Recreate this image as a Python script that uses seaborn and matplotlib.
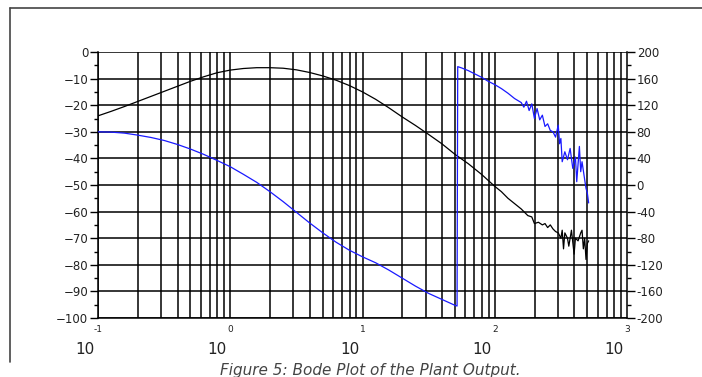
import numpy as np
import pandas as pd
import matplotlib
matplotlib.use("Agg")
import matplotlib.pyplot as plt
from matplotlib.lines import Line2D
from matplotlib.ticker import FixedLocator, NullFormatter
import seaborn as sns

# -----------------------------------
# Data
# -----------------------------------
# magnitude (dB, left axis), frequency given as log10
mag_logf = [-1.0, -0.9, -0.8, -0.7, -0.6, -0.5, -0.4, -0.3, -0.2, -0.1,
            0.0, 0.1, 0.2, 0.3, 0.4, 0.5, 0.6, 0.7, 0.8, 0.9,
            1.0, 1.1, 1.2, 1.3, 1.4, 1.5, 1.6, 1.7, 1.8, 1.9,
            2.0, 2.05, 2.1, 2.15, 2.2, 2.25, 2.28, 2.30, 2.33, 2.36,
            2.38, 2.40, 2.42, 2.44, 2.46, 2.48, 2.50, 2.51, 2.52, 2.53,
            2.55, 2.56, 2.58, 2.60, 2.61, 2.63, 2.65, 2.66, 2.67, 2.68,
            2.69, 2.70, 2.71]
mag_db = [-24, -22.3, -20.5, -18.6, -16.7, -14.8, -12.9, -11.0, -9.3, -7.8,
          -6.8, -6.2, -5.9, -5.9, -6.1, -6.7, -7.7, -9.0, -10.6, -12.6,
          -15.0, -17.8, -21.0, -24.4, -27.6, -31.0, -34.5, -38.5, -42.0, -46.0,
          -50.5, -52.5, -55.0, -57.0, -59.0, -61.5, -62.0, -64.5, -64.0, -65.0,
          -64.5, -66.0, -65.0, -66.5, -67.5, -68.0, -70.0, -67.0, -74.0, -68.0,
          -70.0, -73.0, -67.0, -76.0, -70.0, -71.0, -68.0, -67.0, -74.0, -70.0,
          -78.0, -72.0, -71.0]

# phase (deg, right axis)
ph_logf = [-1.0, -0.9, -0.8, -0.7, -0.6, -0.5, -0.4, -0.3, -0.2, -0.1,
           0.0, 0.1, 0.2, 0.3, 0.4, 0.5, 0.6, 0.7, 0.8, 0.9,
           1.0, 1.1, 1.2, 1.3, 1.4, 1.5, 1.6, 1.7, 1.715, 1.72,
           1.75, 1.8, 1.85, 1.9, 1.95, 2.0, 2.05, 2.1, 2.15, 2.2,
           2.22, 2.24, 2.26, 2.28, 2.30, 2.32, 2.34, 2.36, 2.38, 2.40,
           2.42, 2.44, 2.46, 2.48, 2.49, 2.50, 2.51, 2.53, 2.55, 2.57,
           2.59, 2.61, 2.62, 2.64, 2.65, 2.66, 2.68, 2.69, 2.70, 2.71]
ph_deg = [80, 79.5, 78, 75, 71.5, 67, 61, 54, 46, 37,
          27.5, 16, 4, -10, -25, -41, -57, -72, -86, -98,
          -108, -117, -128, -140, -152, -163, -172, -181, -182, 178,
          176, 172, 167, 162, 156, 151, 145, 138, 130, 124,
          117, 126, 112, 122, 100, 115, 98, 105, 88, 92,
          82, 80, 72, 90, 62, 70, 35, 50, 38, 55,
          25, 42, 5, 58, 20, 35, 8, -5, -12, -27]

mag = pd.DataFrame({"f": 10.0 ** np.array(mag_logf), "db": mag_db})
ph = pd.DataFrame({"f": 10.0 ** np.array(ph_logf), "deg": ph_deg})

x_exponents = [-1, 0, 1, 2, 3]
left_ticks = list(range(-100, 1, 10))
right_ticks = list(range(-200, 201, 40))

# -----------------------------------
# Figure
# -----------------------------------
sns.set_style("white")
plt.rcParams["font.family"] = ["DejaVu Sans"]

W, H = 702, 377
fig = plt.figure(figsize=(W / 100, H / 100), dpi=100)
ax = fig.add_axes([98 / W, 1 - 318 / H, (627 - 98) / W, (318 - 52) / H])
ax2 = ax.twinx()

ax.set_xscale("log")
ax.set_xlim(0.1, 1000)
ax.set_ylim(-100, 0)
ax2.set_ylim(-200, 200)

# grid: every decade + minor log lines, horizontal every 10 dB
for dec in range(-1, 3):
    for m in range(1, 10):
        ax.axvline(m * 10.0 ** dec, color="black", lw=1.1, zorder=1)
for v in left_ticks:
    ax.axhline(v, color="black", lw=1.1, zorder=1)

sns.lineplot(data=mag, x="f", y="db", ax=ax, color="black", lw=0.9,
             sort=False, estimator=None, zorder=3)
sns.lineplot(data=ph, x="f", y="deg", ax=ax2, color="#1a1aff", lw=0.9,
             sort=False, estimator=None, zorder=3)
ax2.set_xscale("log")
ax2.set_xlim(0.1, 1000)

for a in (ax, ax2):
    a.set_xlabel("")
    a.set_ylabel("")
    for s in a.spines.values():
        s.set_visible(False)
ax.spines["left"].set_visible(True)
ax.spines["bottom"].set_visible(True)
ax2.spines["right"].set_visible(True)
for s in ("left", "bottom"):
    ax.spines[s].set_color("black")
    ax.spines[s].set_linewidth(1.1)
ax2.spines["right"].set_color("black")
ax2.spines["right"].set_linewidth(1.1)

# left axis ticks
ax.set_yticks(left_ticks)
ax.set_yticklabels([str(v).replace("-", "\u2212") for v in left_ticks])
ax.yaxis.set_minor_locator(FixedLocator(list(range(-95, 0, 10))))
ax.tick_params(axis="y", which="major", length=6, width=1, color="black",
               labelsize=8.5, pad=1, labelcolor="#222222")
ax.tick_params(axis="y", which="minor", length=3, width=1, color="black")

# right axis ticks
ax2.set_yticks(right_ticks)
ax2.set_yticklabels([str(v) for v in right_ticks])
ax2.yaxis.set_minor_locator(FixedLocator(list(range(-180, 200, 40))))
ax2.tick_params(axis="y", which="major", length=6, width=1, color="black",
                labelsize=8.5, pad=1, labelcolor="#222222")
ax2.tick_params(axis="y", which="minor", length=3, width=1, color="black")

# x axis: exponent labels with the "10" below
ax.set_xticks([10.0 ** e for e in x_exponents])
ax.set_xticklabels([str(e) for e in x_exponents])
ax.xaxis.set_minor_formatter(NullFormatter())
ax.tick_params(axis="x", which="major", length=4, width=1, color="black",
               labelsize=6.5, pad=1, labelcolor="#222222")
ax.tick_params(axis="x", which="minor", length=0)
ax2.tick_params(axis="x", which="both", length=0, labelbottom=False)
for e in x_exponents:
    ax.annotate("10", xy=(10.0 ** e, 0), xycoords=("data", "axes fraction"),
                xytext=(-13, -31), textcoords="offset pixels",
                ha="center", va="center", fontsize=11, color="#222222")

# frame lines around the picture
fig.add_artist(Line2D([10 / W, 1.0], [1 - 8 / H, 1 - 8 / H],
                      color="#444444", lw=1.2, transform=fig.transFigure))
fig.add_artist(Line2D([10 / W, 10 / W], [1 - 8 / H, 1 - 362 / H],
                      color="#444444", lw=1.2, transform=fig.transFigure))

fig.text(370 / W, 1 - 371 / H, "Figure 5: Bode Plot of the Plant Output.",
         ha="center", va="center", fontsize=11, style="italic",
         color="#444444")

fig.savefig("out.png", dpi=100)
